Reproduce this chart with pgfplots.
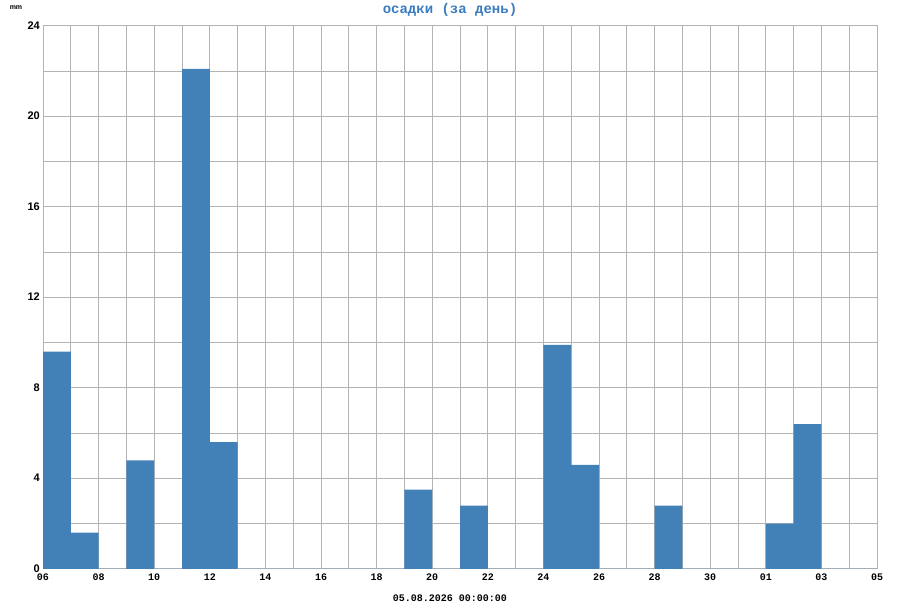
\documentclass[border=0pt]{standalone}
\usepackage{fontspec}
\setmainfont{Liberation Sans}
\newfontfamily\monofont{Liberation Mono}
\usepackage{pgfplots}
\pgfplotsset{compat=1.18}
\definecolor{barblue}{HTML}{4181B8}
\definecolor{titleblue}{HTML}{3A7BBF}
\definecolor{gridgray}{HTML}{B4B4B4}

\begin{document}
\begin{tikzpicture}
\path (0pt,0pt) rectangle (900pt,600pt);
\begin{axis}[
  at={(43pt,33pt)}, anchor=south west,
  scale only axis, width=834pt, height=543pt,
  xmin=0, xmax=30, ymin=0, ymax=24,
  xtick={0,2,...,30},
  xticklabels={06,08,10,12,14,16,18,20,22,24,26,28,30,01,03,05},
  minor xtick={1,3,...,29},
  ytick={0,4,...,24},
  yticklabels={0,4,8,12,16,20,24},
  minor ytick={2,6,...,22},
  grid=both,
  major grid style={gridgray, line width=1pt},
  minor grid style={gridgray, line width=1pt},
  axis line style={gridgray, line width=1pt},
  major tick length=0pt, minor tick length=0pt,
  x tick label style={font=\monofont\bfseries\fontsize{10}{12}\selectfont, inner sep=1pt, yshift=-4pt},
  y tick label style={font=\bfseries\fontsize{11}{13}\selectfont, inner sep=1pt, xshift=-2pt, yshift=0.5pt},
]
\addplot[ybar interval, fill=barblue, draw=none] coordinates {
  (0,9.6) (1,1.6) (2,0) (3,4.8) (4,0) (5,22.1) (6,5.6) (7,0) (8,0) (9,0)
  (10,0) (11,0) (12,0) (13,3.5) (14,0) (15,2.8) (16,0) (17,0) (18,9.9) (19,4.6)
  (20,0) (21,0) (22,2.8) (23,0) (24,0) (25,0) (26,2.0) (27,6.4) (28,0) (29,0)
  (30,0)
};
\end{axis}
\node[font=\monofont\bfseries\fontsize{14}{16}\selectfont, text=titleblue] at (450pt,592pt) {осадки (за день)};
\node[font=\bfseries\fontsize{7}{8}\selectfont] at (16pt,594pt) {mm};
\node[font=\monofont\bfseries\fontsize{10}{12}\selectfont] at (450pt,4pt) {05.08.2026 00:00:00};
\end{tikzpicture}
\end{document}
